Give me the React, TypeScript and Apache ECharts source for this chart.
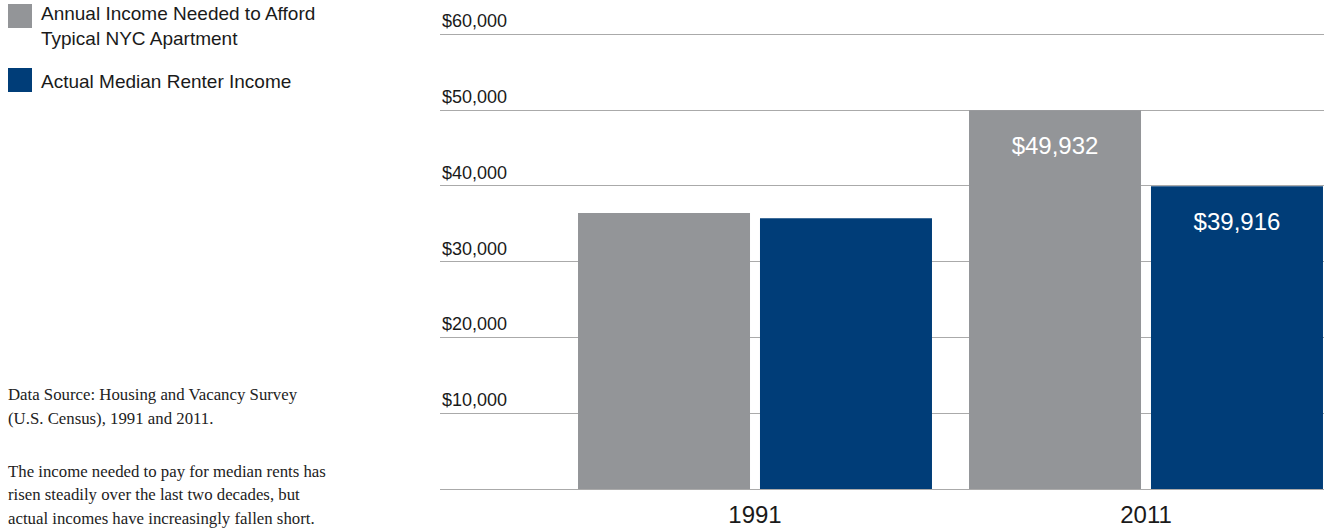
import React, { useEffect, useRef } from 'react';
import * as echarts from 'echarts';

const years = ['1991', '2011'];
const seriesNames = ['Annual Income Needed to Afford Typical NYC Apartment', 'Actual Median Renter Income'];
const legendLines = [['Annual Income Needed to Afford', 'Typical NYC Apartment'], ['Actual Median Renter Income']];
const neededIncome = [36400, 49932];
const medianIncome = [35700, 39916];
const labeledYears = ['2011'];
const yMin = 0;
const yMax = 60000;
const yStep = 10000;
const sourceNote = ['Data Source: Housing and Vacancy Survey', '(U.S. Census), 1991 and 2011.'];
const summaryNote = [
  'The income needed to pay for median rents has',
  'risen steadily over the last two decades, but',
  'actual incomes have increasingly fallen short.',
];
const colors = ['#939598', '#003d78'];

const SANS = '"Liberation Sans", Arial, Helvetica, sans-serif';
const SERIF = '"Liberation Serif", "Times New Roman", serif';
const fmt = (v: number) => '$' + v.toLocaleString('en-US');

export default function App() {
  const ref = useRef<HTMLDivElement>(null);
  useEffect(() => {
    document.body.style.margin = '0';
    if (!ref.current) return;
    const chart = echarts.init(ref.current, undefined, { renderer: 'svg' });
    const seriesData = [neededIncome, medianIncome];
    const graphics: any[] = [];
    // legend
    const legendTops = [4, 68];
    const legendTextOffsets = [9, 13];
    legendLines.forEach((lines, i) => {
      graphics.push({
        type: 'rect',
        shape: { x: 8, y: legendTops[i], width: 24, height: 24 },
        style: { fill: colors[i] },
      });
      lines.forEach((t, j) => {
        graphics.push({
          type: 'text',
          x: 41,
          y: legendTops[i] + legendTextOffsets[i] + j * 25,
          style: { text: t, fontSize: 19, fontFamily: SANS, fill: '#1a1a1a', verticalAlign: 'middle', align: 'left' },
        });
      });
    });
    sourceNote.forEach((t, j) => {
      graphics.push({
        type: 'text', x: 8, y: 394 + j * 24,
        style: { text: t, fontSize: 16.8, fontFamily: SERIF, fill: '#222', verticalAlign: 'middle' },
      });
    });
    summaryNote.forEach((t, j) => {
      graphics.push({
        type: 'text', x: 8, y: 471 + j * 23.5,
        style: { text: t, fontSize: 16.8, fontFamily: SERIF, fill: '#222', verticalAlign: 'middle' },
      });
    });

    chart.setOption({
      animation: false,
      grid: [
        { left: 440, right: 0, top: 34, bottom: 40, outerBoundsMode: 'none' },
        { left: 559.5, width: 782, top: 34, bottom: 40, outerBoundsMode: 'none' },
      ],
      xAxis: [
        { gridIndex: 0, type: 'category', data: years, show: false },
        {
          gridIndex: 1, type: 'category', data: years,
          axisLine: { show: false }, axisTick: { show: false },
          axisLabel: { fontSize: 24, color: '#1a1a1a', margin: 13, fontFamily: SANS },
        },
      ],
      yAxis: [
        {
          gridIndex: 0, type: 'value', min: yMin, max: yMax, interval: yStep,
          axisLine: { show: false }, axisTick: { show: false },
          splitLine: { show: true, lineStyle: { color: '#aaaaaa', width: 1 } },
          axisLabel: {
            inside: true, margin: 2, verticalAlign: 'bottom', fontSize: 18, color: '#1a1a1a', fontFamily: SANS,
            padding: [0, 0, 4, 0],
            formatter: (v: number) => (v === 0 ? '' : fmt(v)),
          },
        },
        { gridIndex: 1, type: 'value', min: yMin, max: yMax, interval: yStep, show: false, splitLine: { show: false } },
      ],
      series: seriesNames.map((name, si) => ({
        type: 'bar', name, xAxisIndex: 1, yAxisIndex: 1,
        barWidth: 172, barGap: '5.8%',
        itemStyle: { color: colors[si] },
        data: seriesData[si].map((v, i) => ({ value: v, label: { show: labeledYears.includes(years[i]) } })),
        label: {
          position: 'insideTop', distance: 23, color: '#ffffff', fontSize: 24, fontFamily: SANS,
          formatter: (p: any) => fmt(p.value),
        },
      })),
      graphic: graphics,
    });
    return () => chart.dispose();
  }, []);
  return <div ref={ref} style={{ width: 1324, height: 529 }} />;
}
